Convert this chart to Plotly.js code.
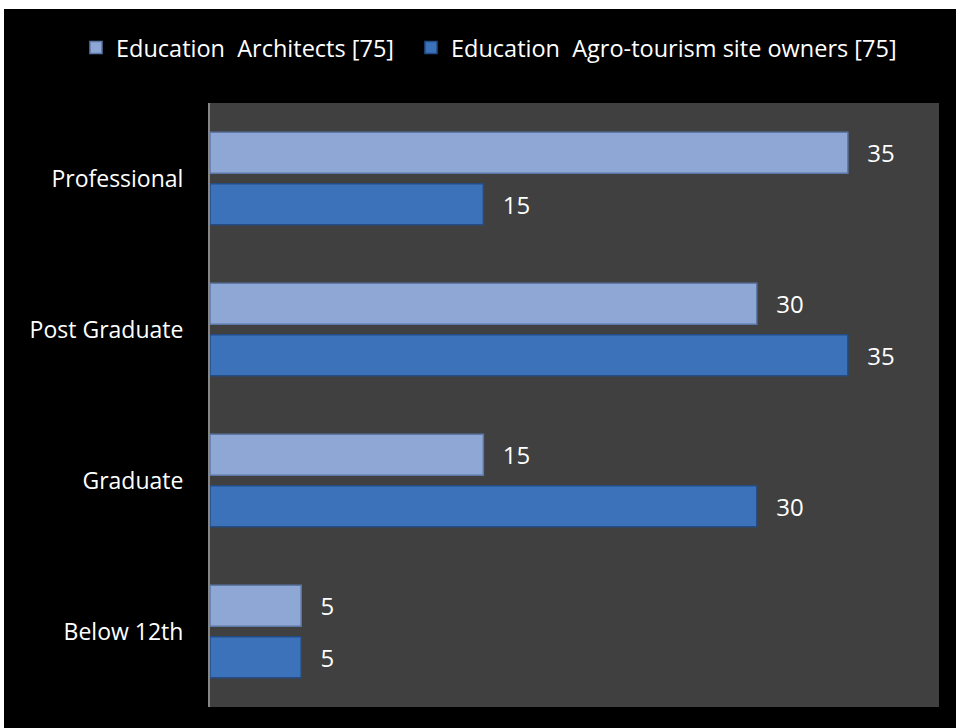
<!DOCTYPE html>
<html>
<head>
<meta charset="utf-8">
<script src="https://cdn.plot.ly/plotly-3.0.1.min.js"></script>
<style>
  html, body { margin: 0; padding: 0; background: #ffffff; width: 956px; height: 728px; overflow: hidden; }
  #chart { position: absolute; left: 4px; top: 9px; width: 952px; height: 719px; }
</style>
</head>
<body>
<div id="chart"></div>
<script>
const categories = ['Professional', 'Post Graduate', 'Graduate', 'Below 12th'];
const seriesNames = ['Education\u00A0 Architects [75]', 'Education\u00A0 Agro-tourism site owners [75]'];
const architects = [35, 30, 15, 5];
const agroOwners = [15, 35, 30, 5];

const FONT = 'Open Sans, Liberation Sans, sans-serif';
const PAD = '\u00A0\u00A0\u2009';

const traces = [
  {
    type: 'bar', orientation: 'h', name: seriesNames[0], legend: 'legend',
    y: categories, x: architects,
    texttemplate: PAD + '%{x}', textposition: 'outside', cliponaxis: false,
    textfont: { color: '#ffffff', size: 24, family: FONT },
    marker: { color: '#8ea7d4', line: { color: '#5d78a6', width: 1.5 } },
    hoverinfo: 'x+y'
  },
  {
    type: 'bar', orientation: 'h', name: seriesNames[1], legend: 'legend2',
    y: categories, x: agroOwners,
    texttemplate: PAD + '%{x}', textposition: 'outside', cliponaxis: false,
    textfont: { color: '#ffffff', size: 24, family: FONT },
    marker: { color: '#3b72ba', line: { color: '#244d86', width: 1.5 } },
    hoverinfo: 'x+y'
  }
];

const legendBase = {
  orientation: 'h',
  xref: 'container', xanchor: 'left',
  yref: 'container', y: 0.946, yanchor: 'middle',
  font: { family: FONT, color: '#ffffff', size: 23.5 },
  bgcolor: 'rgba(0,0,0,0)',
  itemwidth: 30
};

const layout = {
  width: 952, height: 719,
  paper_bgcolor: '#000000',
  plot_bgcolor: '#404040',
  margin: { l: 206, r: 17, t: 94, b: 21, pad: 0 },
  barmode: 'group',
  bargap: 0.32,
  bargroupgap: 0.2,
  font: { family: FONT, color: '#ffffff', size: 23 },
  showlegend: true,
  legend: Object.assign({}, legendBase, { x: 0.0756 }),
  legend2: Object.assign({}, legendBase, { x: 0.4275 }),
  xaxis: {
    range: [0, 40],
    showgrid: false, zeroline: false, showticklabels: false,
    showline: false, ticks: ''
  },
  yaxis: {
    type: 'category',
    autorange: 'reversed',
    showgrid: false, zeroline: false,
    showline: true, linecolor: '#868686', linewidth: 2,
    ticks: '', ticklabelstandoff: 20,
    tickfont: { family: FONT, color: '#ffffff', size: 23 }
  }
};

Plotly.newPlot('chart', traces, layout, { displayModeBar: false, staticPlot: true });
</script>
</body>
</html>
